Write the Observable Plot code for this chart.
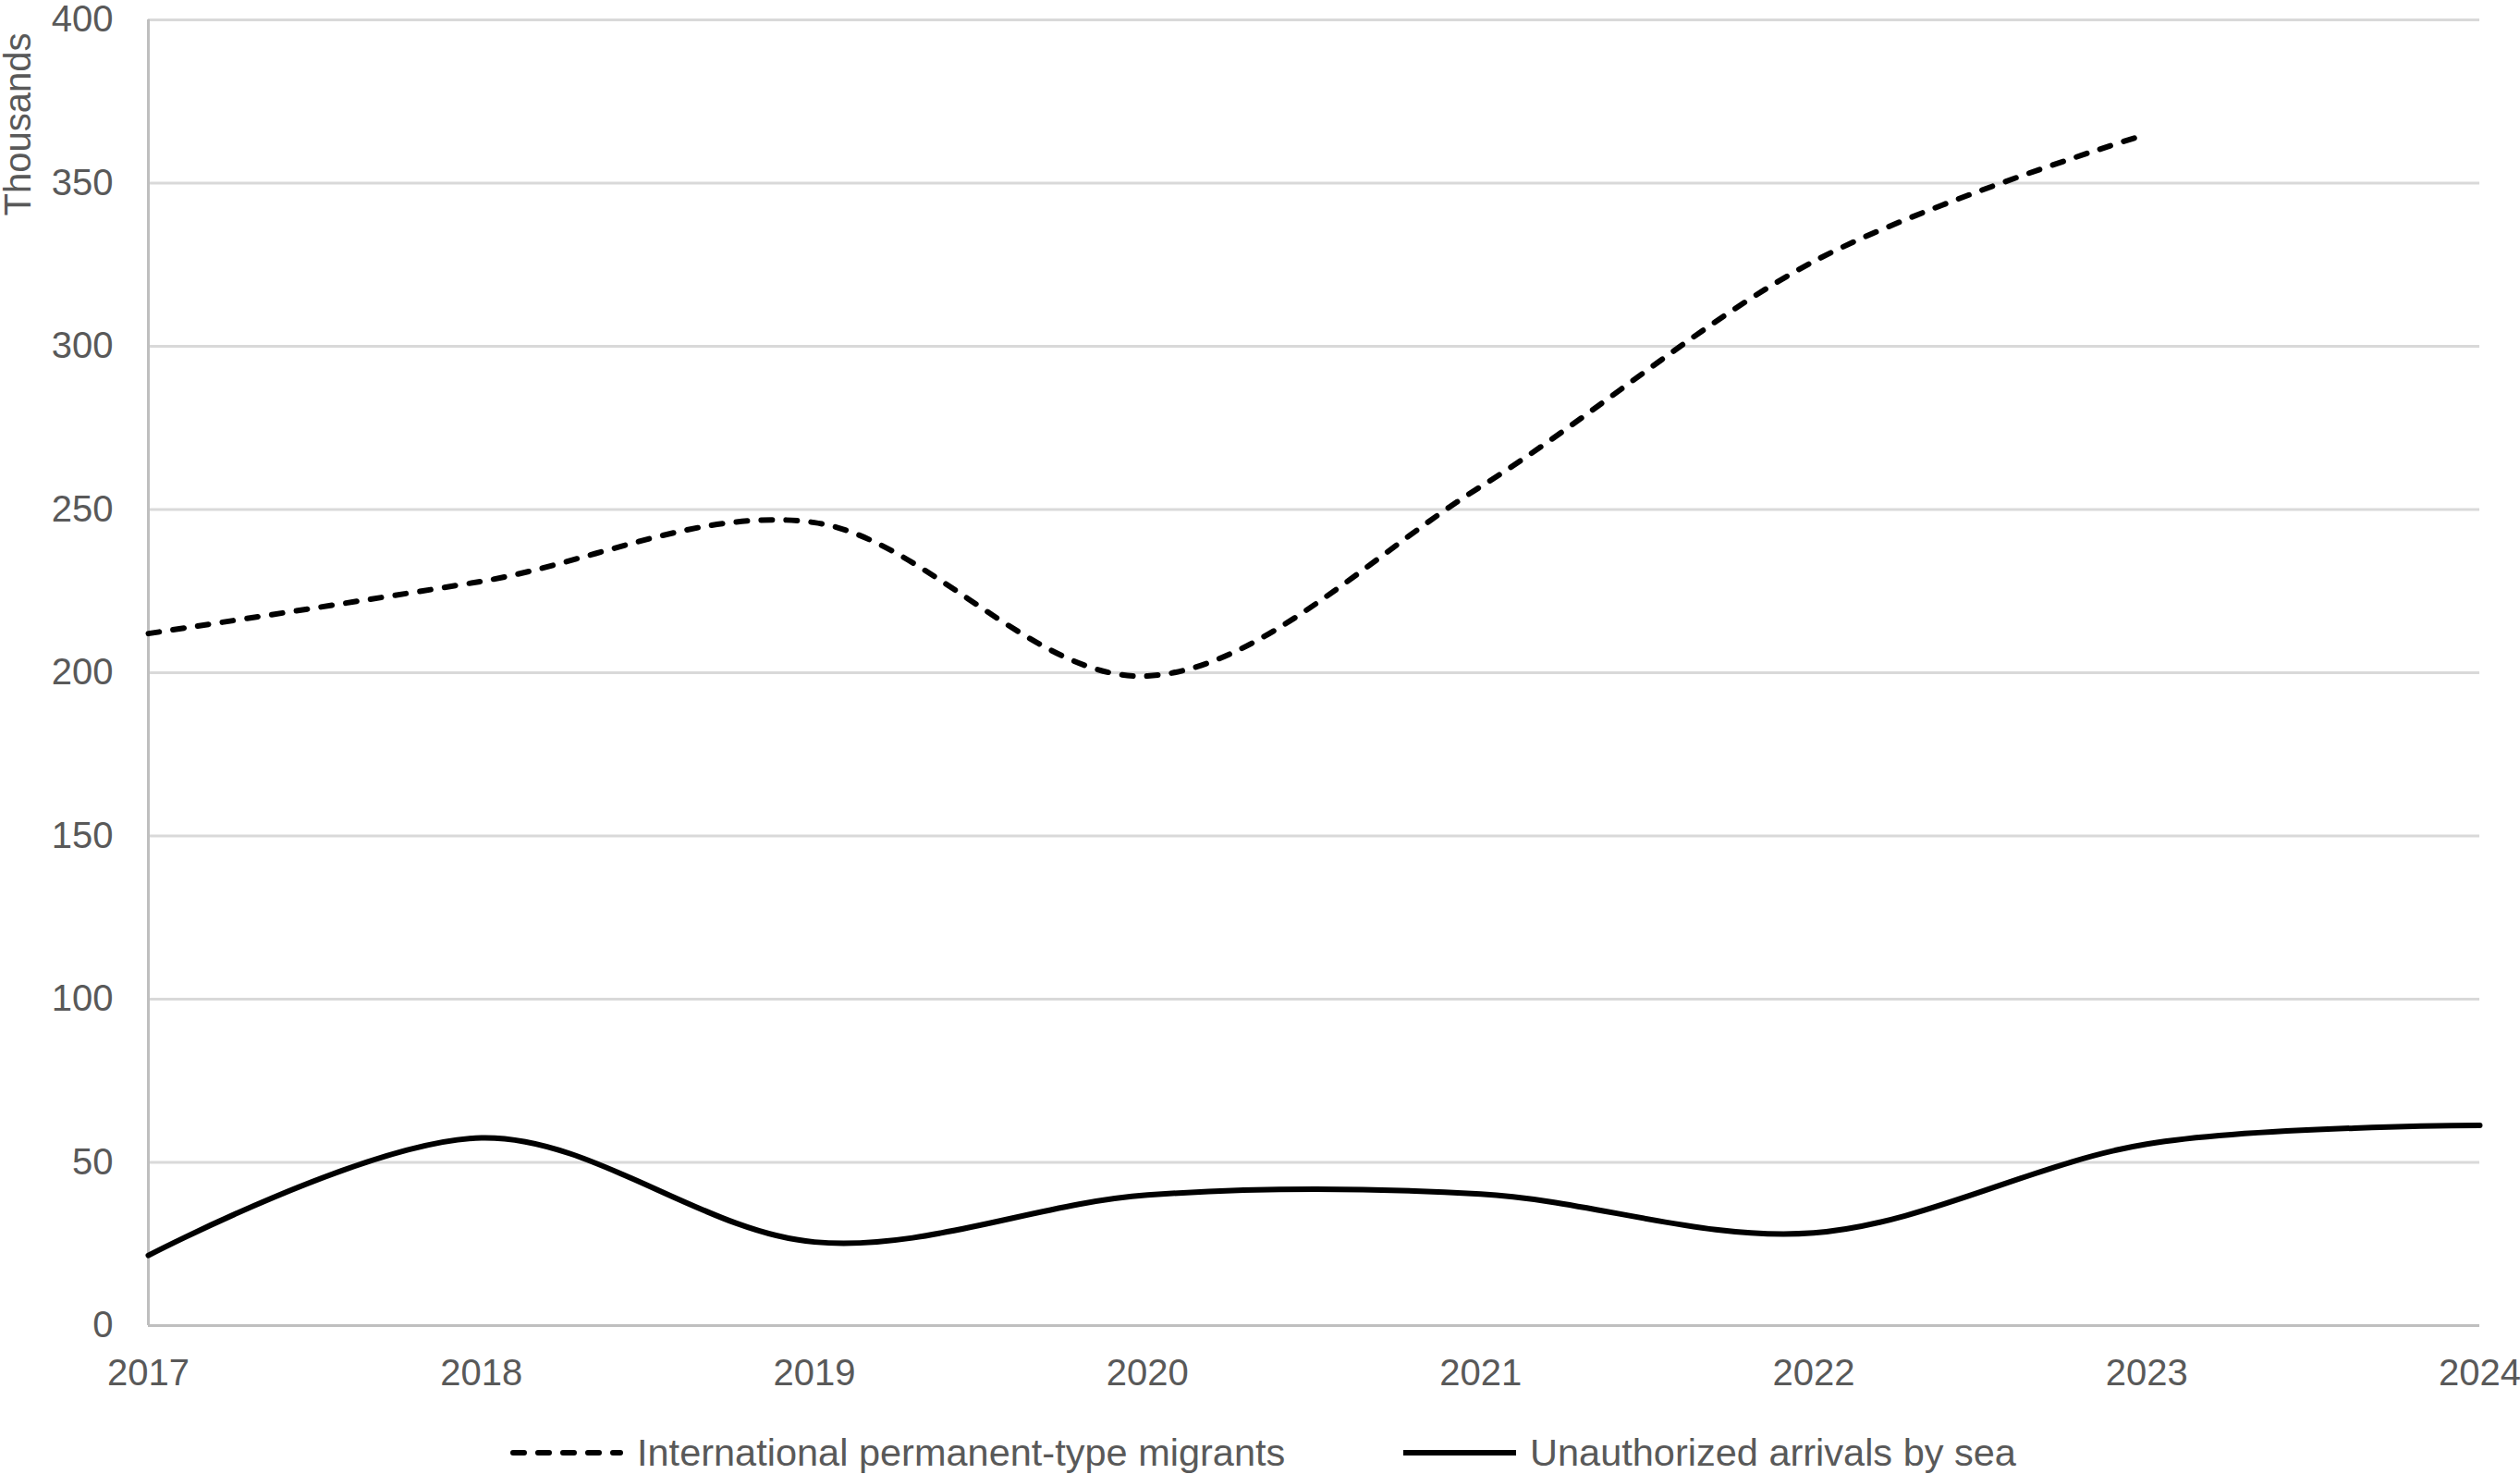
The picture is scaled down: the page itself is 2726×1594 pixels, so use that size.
<!DOCTYPE html>
<html>
<head>
<meta charset="utf-8">
<script src="https://cdn.jsdelivr.net/npm/d3@7"></script>
<script src="https://cdn.jsdelivr.net/npm/@observablehq/plot@0.6"></script>
<style>
  html, body { margin: 0; padding: 0; background: #ffffff; }
  #chart { width: 2726px; }
  #legend {
    position: relative;
    width: 2726px;
    height: 74px;
    font-family: "Liberation Sans", Arial, sans-serif;
    font-size: 41.5px;
    color: #595959;
  }
  .item { position: absolute; top: 14px; height: 74px; display: flex; align-items: center; }
  .item svg { margin-right: 15px; }
</style>
</head>
<body>
<div id="chart"></div>
<div id="legend">
  <div class="item" style="left:552px">
    <svg width="122" height="12"><line x1="3" y1="6" x2="119" y2="6" stroke="#000" stroke-width="6" stroke-linecap="round" stroke-dasharray="12,15"/></svg>
    <span>International permanent-type migrants</span>
  </div>
  <div class="item" style="left:1518px">
    <svg width="122" height="12"><line x1="0" y1="6" x2="122" y2="6" stroke="#000" stroke-width="6"/></svg>
    <span>Unauthorized arrivals by sea</span>
  </div>
</div>
<script>
// Years on the horizontal axis
const years = [2017, 2018, 2019, 2020, 2021, 2022, 2023, 2024];

// International permanent-type migrants, thousands (2017–2023)
const permanentMigrants = [212, 228, 246, 199, 257, 326, 365];

// Unauthorized arrivals by sea, thousands (2017–2024)
const seaArrivals = [21.5, 57.5, 25.6, 40, 40.3, 28.4, 55.6, 61.3];

// Vertical axis ticks
const yTicks = [0, 50, 100, 150, 200, 250, 300, 350, 400];

const permanentRows = permanentMigrants.map((v, i) => ({year: years[i], value: v}));
const seaRows = seaArrivals.map((v, i) => ({year: years[i], value: v}));

// Excel-style smoothing: uniform Catmull-Rom through each point
const smooth = d3.curveCardinal.tension(0);

const chart = Plot.plot({
  width: 2726,
  height: 1520,
  marginLeft: 160,
  marginRight: 44,
  marginTop: 21,
  marginBottom: 87,
  style: {
    fontFamily: "'Liberation Sans', Arial, sans-serif",
    fontSize: "40px",
    color: "#595959",
    background: "#ffffff",
    overflow: "visible"
  },
  x: {domain: [2017, 2024]},
  y: {domain: [0, 400]},
  marks: [
    Plot.ruleY(yTicks.filter(d => d > 0), {stroke: "#d9d9d9", strokeWidth: 3}),
    Plot.ruleY([0], {stroke: "#bfbfbf", strokeWidth: 3}),
    Plot.ruleX([2017], {stroke: "#bfbfbf", strokeWidth: 3}),
    Plot.axisY({ticks: yTicks, tickSize: 0, tickPadding: 38, label: null}),
    Plot.axisX({ticks: years, tickFormat: "d", tickSize: 0, tickPadding: 36, label: null}),
    Plot.text(["Thousands"], {
      frameAnchor: "top-left",
      rotate: -90,
      textAnchor: "start",
      lineAnchor: "middle",
      dx: -140,
      dy: 212,
      fill: "#595959",
      fontSize: 40
    }),
    Plot.line(permanentRows, {
      x: "year", y: "value",
      curve: smooth,
      stroke: "#000000",
      strokeWidth: 6,
      strokeDasharray: "12,15",
      strokeLinecap: "round"
    }),
    Plot.line(seaRows, {
      x: "year", y: "value",
      curve: smooth,
      stroke: "#000000",
      strokeWidth: 6
    })
  ]
});

document.getElementById("chart").appendChild(chart);
</script>
</body>
</html>
